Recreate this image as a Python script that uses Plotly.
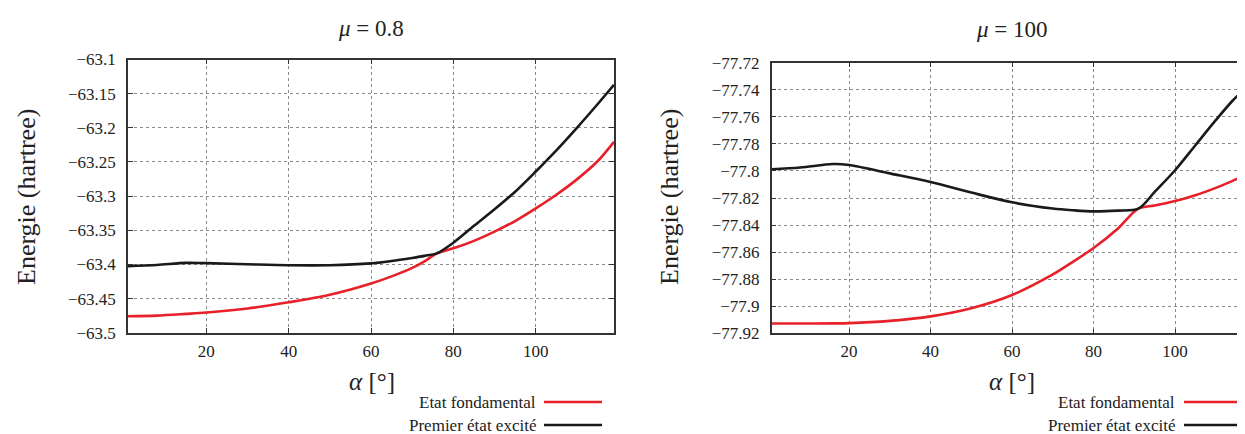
import plotly.graph_objects as go

# The page body has an 8px default margin, so the figure is drawn 8px smaller
# and every layout coordinate below is measured in window pixels minus 8.
WIN_W, WIN_H = 1245, 434
OFF = 8
W, H = WIN_W - OFF, WIN_H - OFF

# ---------------- data ----------------
alpha_left = [1, 8, 15, 20, 30, 40, 50, 60, 65, 70, 73, 76, 80, 85, 90, 95, 100, 105, 110, 115, 119]
ground_left = [-63.476, -63.475, -63.4725, -63.4705, -63.4645, -63.4555, -63.4445, -63.428, -63.4175,
               -63.405, -63.3955, -63.3838, -63.3765, -63.3655, -63.352, -63.3365, -63.318, -63.298,
               -63.2755, -63.249, -63.2205]
excited_left = [-63.4025, -63.4008, -63.3978, -63.3982, -63.3998, -63.4012, -63.4012, -63.3985,
                -63.395, -63.3905, -63.3875, -63.3838, -63.3682, -63.3435, -63.3193, -63.2936,
                -63.264, -63.233, -63.200, -63.1655, -63.137]

alpha_right = [1, 8, 16, 20, 30, 40, 50, 60, 70, 75, 80, 86, 91, 95, 100, 105, 110, 114, 117]
ground_right = [-77.9128, -77.9128, -77.9127, -77.9125, -77.9108, -77.9075, -77.9015, -77.8917,
                -77.8765, -77.867, -77.857, -77.8425, -77.8279, -77.8256, -77.8222, -77.818,
                -77.8125, -77.8075, -77.8035]
excited_right = [-77.7988, -77.7975, -77.7949, -77.7956, -77.8018, -77.8082, -77.816, -77.8232,
                 -77.8278, -77.8291, -77.8299, -77.8293, -77.8279, -77.8155, -77.7995, -77.781,
                 -77.7625, -77.7485, -77.7397]

x_ticks = [20, 40, 60, 80, 100]
x_ticktext = ["20", "40", "60", "80", "100"]
y_ticks_left = [-63.1, -63.15, -63.2, -63.25, -63.3, -63.35, -63.4, -63.45, -63.5]
y_ticktext_left = ["−63.1", "−63.15", "−63.2", "−63.25", "−63.3", "−63.35", "−63.4", "−63.45", "−63.5"]
y_ticks_right = [-77.72, -77.74, -77.76, -77.78, -77.8, -77.82, -77.84, -77.86, -77.88, -77.9, -77.92]
y_ticktext_right = ["−77.72", "−77.74", "−77.76", "−77.78", "−77.8", "−77.82", "−77.84", "−77.86",
                    "−77.88", "−77.9", "−77.92"]

titles = ["<i>μ</i> = 0.8", "<i>μ</i> = 100"]
series_names = ["Etat fondamental", "Premier état excité"]

RED = "#e8202a"
BLACK = "#1a1a1a"
FONT = "'Liberation Serif', 'DejaVu Serif', serif"
TXT = "#222222"

def px_x(p):
    return (p - OFF) / W

def px_y(p):
    return 1 - (p - OFF) / H

fig = go.Figure()
line_kw = dict(width=2.6, shape="spline", smoothing=0.9)
fig.add_trace(go.Scatter(x=alpha_left, y=ground_left, mode="lines", line=dict(color=RED, **line_kw),
                         xaxis="x", yaxis="y", showlegend=False, name=series_names[0]))
fig.add_trace(go.Scatter(x=alpha_left, y=excited_left, mode="lines", line=dict(color=BLACK, **line_kw),
                         xaxis="x", yaxis="y", showlegend=False, name=series_names[1]))
fig.add_trace(go.Scatter(x=alpha_right, y=ground_right, mode="lines", line=dict(color=RED, **line_kw),
                         xaxis="x2", yaxis="y2", showlegend=False, name=series_names[0]))
fig.add_trace(go.Scatter(x=alpha_right, y=excited_right, mode="lines", line=dict(color=BLACK, **line_kw),
                         xaxis="x2", yaxis="y2", showlegend=False, name=series_names[1]))

axis_common = dict(
    showline=True, linecolor="#333333", linewidth=1.5, mirror="ticks",
    ticks="inside", ticklen=5, tickwidth=1, tickcolor="#333333",
    showgrid=True, gridcolor="#8a8a8a", griddash="dot", gridwidth=1,
    zeroline=False, automargin=False, tickfont=dict(family=FONT, size=17, color=TXT),
)

fig.update_layout(
    width=W, height=H,
    margin=dict(l=0, r=0, t=0, b=0, autoexpand=False),
    paper_bgcolor="white", plot_bgcolor="white",
    font=dict(family=FONT, color=TXT),
    xaxis=dict(domain=[px_x(128), px_x(614)], range=[1, 119], anchor="y",
               tickvals=x_ticks, ticktext=x_ticktext, ticklabelstandoff=2, **axis_common),
    yaxis=dict(domain=[px_y(332.7), px_y(59.5)], range=[-63.5, -63.1], anchor="x",
               tickvals=y_ticks_left, ticktext=y_ticktext_left, ticklabelstandoff=7, **axis_common),
    xaxis2=dict(domain=[px_x(771.7), min(1.0, px_x(1244.3))], range=[1, 117], anchor="y2",
                tickvals=x_ticks, ticktext=x_ticktext, ticklabelstandoff=2, **axis_common),
    yaxis2=dict(domain=[px_y(333.3), px_y(62.7)], range=[-77.92, -77.72], anchor="x2",
                tickvals=y_ticks_right, ticktext=y_ticktext_right, ticklabelstandoff=7, **axis_common),
)

def label(text, xc, yc, size, **kw):
    d = dict(text=text, x=px_x(xc), y=px_y(yc), xref="paper", yref="paper",
             xanchor="center", yanchor="middle", showarrow=False,
             font=dict(family=FONT, size=size, color=TXT))
    d.update(kw)
    return d

ann = []
ann.append(label(titles[0], 371, 28, 23))
ann.append(label(titles[1], 1012, 30, 23))
for xc in (26, 669):
    ann.append(label("Energie (hartree)", xc, 197, 26, textangle=-90))
for xc in (372, 1012):
    ann.append(label("<i>α</i> [°]", xc, 381, 25))

shapes = []
for text_right, l0, l1 in ((538, 544, 602), (1177, 1184, 1241)):
    for i, (yc, col) in enumerate(((402, RED), (425, BLACK))):
        ann.append(label(series_names[i], text_right, yc, 17, xanchor="right"))
        shapes.append(dict(type="line", xref="paper", yref="paper", x0=px_x(l0), x1=px_x(l1),
                           y0=px_y(yc), y1=px_y(yc), line=dict(color=col, width=2.6)))

fig.update_layout(annotations=ann, shapes=shapes)
fig.write_html("out.html")
